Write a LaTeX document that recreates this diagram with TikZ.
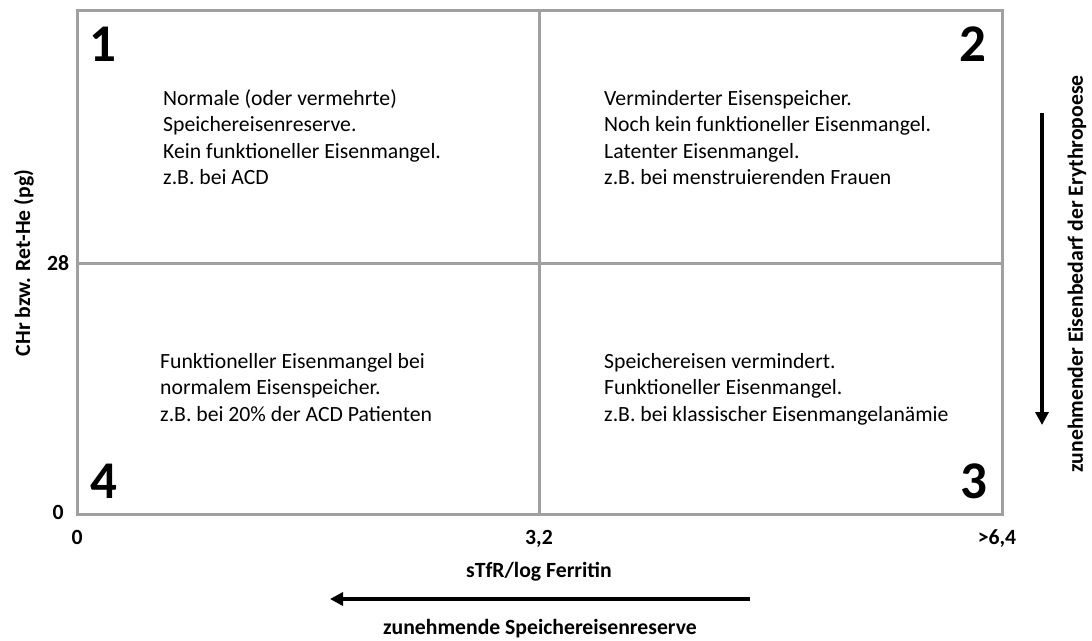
\documentclass[tikz,border=0pt]{standalone}
\usepackage{fontspec}
\setmainfont{Carlito}
\usetikzlibrary{arrows.meta}
\definecolor{boxgray}{RGB}{160,160,160}
\begin{document}
\begin{tikzpicture}[x=1pt,y=-1pt,
  gridline/.style={draw=boxgray,line width=3pt},
  bodytext/.style={anchor=north west,align=left,inner sep=0pt,
    font=\fontsize{21.7}{26.5}\selectfont},
  axislabel/.style={inner sep=0pt,font=\fontsize{21.7}{26.5}\selectfont\bfseries},
  bignum/.style={inner sep=0pt,font=\fontsize{53}{53}\selectfont\bfseries},
  bigarrow/.style={line width=4pt,-{Triangle[length=13pt,width=13pt]}}]
\useasboundingbox (0,0) rectangle (1092,640);
% grid
\draw[gridline] (77,10) rectangle (1002,514);
\draw[gridline] (539,10) -- (539,514);
\draw[gridline] (77,263) -- (1002,263);
% quadrant numbers
\node[bignum,anchor=base west] (n1) at (89,61) {1};
\node[bignum,anchor=base east] (n2) at (987,61) {2};
\node[bignum,anchor=base east] (n3) at (988,498) {3};
\node[bignum,anchor=base west] (n4) at (90,498) {4};
% quadrant texts
\node[bodytext] (t1) at (163,86.5) {\strut Normale (oder vermehrte)\\Speichereisenreserve.\\Kein funktioneller Eisenmangel.\\z.B. bei ACD};
\node[bodytext] (t2) at (604,86.5) {\strut Verminderter Eisenspeicher.\\Noch kein funktioneller Eisenmangel.\\Latenter Eisenmangel.\\z.B. bei menstruierenden Frauen};
\node[bodytext] (t3) at (604,349.5) {\strut Speichereisen vermindert.\\Funktioneller Eisenmangel.\\z.B. bei klassischer Eisenmangelanämie};
\node[bodytext] (t4) at (160,349.5) {\strut Funktioneller Eisenmangel bei\\normalem Eisenspeicher.\\z.B. bei 20\% der ACD Patienten};
% axis ticks labels
\node[axislabel] (y28) at (58,263) {28};
\node[axislabel] (y0) at (58,512) {0};
\node[axislabel,anchor=base] (x0) at (77,544) {0};
\node[axislabel,anchor=base] (x32) at (539,544) {3,2};
\node[axislabel,anchor=base] (x64) at (997,544) {>6,4};
\node[axislabel] (xlab) at (539,572) {sTfR/log Ferritin};
\node[axislabel,rotate=90] (ylab) at (24,263) {CHr bzw. Ret-He (pg)};
% arrows
\coordinate (ha) at (750,599);
\coordinate (hb) at (330,599);
\draw[bigarrow] (ha) -- (hb);
\node[axislabel] (hlab) at (540,629) {zunehmende Speichereisenreserve};
\coordinate (va) at (1042,113);
\coordinate (vb) at (1042,425);
\draw[bigarrow] (va) -- (vb);
\node[axislabel,rotate=90] (vlab) at (1077,274) {zunehmender Eisenbedarf der Erythropoese};
\end{tikzpicture}
\end{document}
